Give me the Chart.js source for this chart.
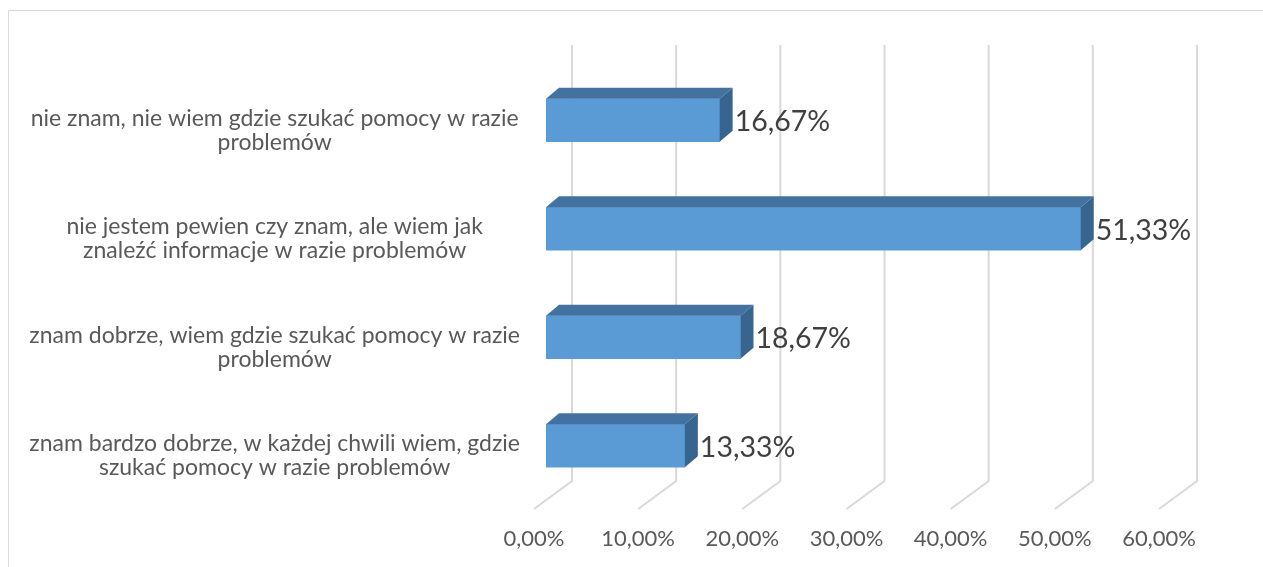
<!DOCTYPE html>
<html>
<head>
<meta charset="utf-8">
<script src="https://cdn.jsdelivr.net/npm/chart.js@4/dist/chart.umd.min.js"></script>
<style>
  body { margin: 0; background: #fff; }
  #wrap { width: 1263px; height: 567px; position: relative; }
</style>
</head>
<body>
<div id="wrap"><canvas id="chart"></canvas></div>
<script>
// answers, top to bottom
const categories = [
  ['nie znam, nie wiem gdzie szukać pomocy w razie', 'problemów'],
  ['nie jestem pewien czy znam, ale wiem jak', 'znaleźć informacje w razie problemów'],
  ['znam dobrze, wiem gdzie szukać pomocy w razie', 'problemów'],
  ['znam bardzo dobrze, w każdej chwili wiem, gdzie', 'szukać pomocy w razie problemów']
];
const percentages = [16.67, 51.33, 18.67, 13.33];
const axisMin = 0;
const axisMax = 60;
const axisStep = 10;

const FONT = 'Lato, "Open Sans", sans-serif';
// depth of the bar boxes and of the floor
const BAR_DX = 13, BAR_DY = -11;
const WALL_DX = 26;       // back wall offset from bar front
const FLOOR_DX = -12;     // front floor edge offset from bar front
const WALL_TOP = 45, WALL_BOTTOM = 481, FLOOR_FRONT = 509;

function fmt(v) {
  return v.toFixed(2).replace('.', ',') + '%';
}

const box3d = {
  id: 'box3d',
  beforeDraw(chart) {
    const ctx = chart.ctx;
    ctx.save();
    // outer frame
    ctx.strokeStyle = '#d9d9d9';
    ctx.lineWidth = 1;
    ctx.beginPath();
    ctx.moveTo(8.5, 567);
    ctx.lineTo(8.5, 10.5);
    ctx.lineTo(1263, 10.5);
    ctx.stroke();
    ctx.restore();
  },
  beforeDatasetsDraw(chart) {
    const ctx = chart.ctx;
    const xs = chart.scales.x;
    ctx.save();
    ctx.strokeStyle = '#d9d9d9';
    ctx.lineWidth = 2;
    for (let v = axisMin; v <= axisMax; v += axisStep) {
      const xf = xs.getPixelForValue(v);
      ctx.beginPath();
      ctx.moveTo(xf + WALL_DX, WALL_TOP);
      ctx.lineTo(xf + WALL_DX, WALL_BOTTOM);
      ctx.lineTo(xf + FLOOR_DX, FLOOR_FRONT);
      ctx.stroke();
    }
    ctx.restore();
  },
  afterDatasetsDraw(chart) {
    const ctx = chart.ctx;
    const meta = chart.getDatasetMeta(0);
    ctx.save();
    meta.data.forEach((bar, i) => {
      const p = bar.getProps(['x', 'y', 'base', 'height'], true);
      const top = p.y - p.height / 2;
      const bottom = p.y + p.height / 2;
      // top face
      ctx.fillStyle = '#4472a0';
      ctx.beginPath();
      ctx.moveTo(p.base, top);
      ctx.lineTo(p.x, top);
      ctx.lineTo(p.x + BAR_DX, top + BAR_DY);
      ctx.lineTo(p.base + BAR_DX, top + BAR_DY);
      ctx.closePath();
      ctx.fill();
      // side face
      ctx.fillStyle = '#386590';
      ctx.beginPath();
      ctx.moveTo(p.x, top);
      ctx.lineTo(p.x + BAR_DX, top + BAR_DY);
      ctx.lineTo(p.x + BAR_DX, bottom + BAR_DY);
      ctx.lineTo(p.x, bottom);
      ctx.closePath();
      ctx.fill();
      // value label
      ctx.fillStyle = '#404040';
      ctx.font = '28.5px ' + FONT;
      ctx.textAlign = 'left';
      ctx.textBaseline = 'middle';
      ctx.fillText(fmt(percentages[i]), p.x + BAR_DX + 2, p.y + 2);
    });
    ctx.restore();
  }
};

new Chart(document.getElementById('chart'), {
  type: 'bar',
  data: {
    labels: categories,
    datasets: [{
      data: percentages,
      backgroundColor: '#5b9bd5',
      borderWidth: 0,
      barThickness: 43
    }]
  },
  options: {
    indexAxis: 'y',
    responsive: true,
    maintainAspectRatio: false,
    animation: false,
    layout: { padding: { left: 0, right: 92, top: 66, bottom: 0 } },
    plugins: { legend: { display: false }, tooltip: { enabled: false } },
    scales: {
      x: {
        min: axisMin,
        max: axisMax,
        grid: { display: false },
        border: { display: false },
        ticks: {
          stepSize: axisStep,
          color: '#595959',
          font: { family: FONT, size: 22 },
          padding: 18,
          labelOffset: FLOOR_DX,
          callback: v => fmt(v)
        },
        afterFit(scale) { scale.height = 67; }
      },
      y: {
        grid: { display: false },
        border: { display: false },
        ticks: {
          color: '#595959',
          font: { family: FONT, size: 23, lineHeight: '24px' },
          crossAlign: 'center',
          padding: 18,
          labelOffset: 10
        },
        afterFit(scale) { scale.width = 546; }
      }
    }
  },
  plugins: [box3d]
});
</script>
</body>
</html>
